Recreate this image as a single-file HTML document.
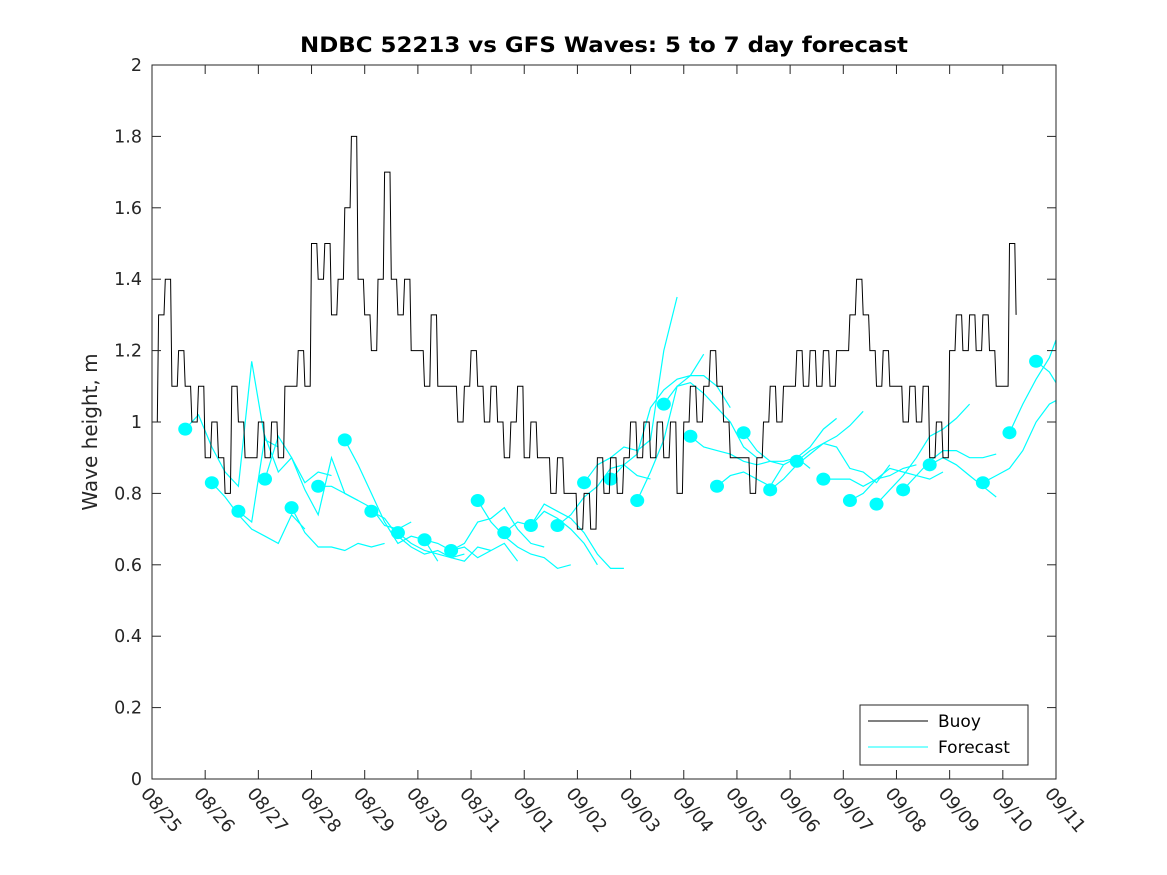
<!DOCTYPE html>
<html><head><meta charset="utf-8"><style>
body{margin:0;background:#fff}
svg{display:block;font-family:"DejaVu Sans","Liberation Sans",sans-serif}
</style></head><body>
<svg id="chart" width="1167" height="875" xmlns="http://www.w3.org/2000/svg">
<rect width="1167" height="875" fill="#fff"/>
<text x="604" y="52" font-size="21" font-weight="bold" text-anchor="middle" fill="#000" textLength="608" lengthAdjust="spacingAndGlyphs">NDBC 52213 vs GFS Waves: 5 to 7 day forecast</text>
<text transform="translate(97,432) rotate(-90)" font-size="20" text-anchor="middle" fill="#262626">Wave height, m</text>
<g id="plot"></g>
<rect x="152" y="65" width="904" height="714" fill="none" stroke="#262626" stroke-width="1"/>
<g id="ticks"></g>
<g>
<rect x="860" y="705" width="168" height="60" fill="#fff" stroke="#262626"/>
<line x1="868" y1="721" x2="928" y2="721" stroke="#000"/>
<text x="938" y="727" font-size="17" fill="#000">Buoy</text>
<line x1="868" y1="747" x2="928" y2="747" stroke="#0ff"/>
<text x="938" y="753" font-size="17" fill="#000">Forecast</text>
</g>
</svg>
<script>
const dayLabels=["08/25","08/26","08/27","08/28","08/29","08/30","08/31","09/01","09/02","09/03","09/04","09/05","09/06","09/07","09/08","09/09","09/10","09/11"];
const yTicks=[0,0.2,0.4,0.6,0.8,1,1.2,1.4,1.6,1.8,2];
const buoyStep=0.125;
const buoy=[1.0,1.3,1.4,1.1,1.2,1.1,1.0,1.1,
0.9,1.0,0.9,0.8,1.1,1.0,0.9,0.9,
1.0,0.9,1.0,0.9,1.1,1.1,1.2,1.1,
1.5,1.4,1.5,1.3,1.4,1.6,1.8,1.4,
1.3,1.2,1.4,1.7,1.4,1.3,1.4,1.2,
1.2,1.1,1.3,1.1,1.1,1.1,1.0,1.1,
1.2,1.1,1.0,1.1,1.0,0.9,1.0,1.1,
0.9,1.0,0.9,0.9,0.8,0.9,0.8,0.8,
0.7,0.8,0.7,0.9,0.8,0.9,0.8,0.9,
1.0,0.9,1.0,0.9,1.0,0.9,1.0,0.8,
1.0,1.1,1.0,1.1,1.2,1.1,1.0,0.9,
0.9,0.9,0.8,0.9,1.0,1.1,1.0,1.1,
1.1,1.2,1.1,1.2,1.1,1.2,1.1,1.2,
1.2,1.3,1.4,1.3,1.2,1.1,1.2,1.1,
1.1,1.0,1.1,1.0,1.1,0.9,1.0,0.9,
1.2,1.3,1.2,1.3,1.2,1.3,1.2,1.1,
1.1,1.5,1.3];
const fcStart=0.625, fcSpacing=0.5, fcStep=0.25;
const forecasts=[
[0.98,1.02,0.93,0.86,0.82,1.17,0.95,0.93],
[0.83,0.79,0.74,0.70,0.68,0.66,0.74,0.70],
[0.75,0.72,0.96,0.86,0.90,0.83,0.86,0.85],
[0.84,0.96,0.90,0.81,0.74,0.90,0.80,0.78],
[0.76,0.69,0.65,0.65,0.64,0.66,0.65,0.66],
[0.82,0.82,0.80,0.78,0.76,0.71,0.70,0.72],
[0.95,0.88,0.80,0.72,0.66,0.68,0.67,0.61],
[0.75,0.73,0.68,0.65,0.63,0.64,0.62,0.63],
[0.69,0.66,0.64,0.63,0.62,0.61,0.65,0.64],
[0.67,0.66,0.64,0.65,0.62,0.64,0.66,0.61],
[0.64,0.66,0.72,0.73,0.76,0.70,0.66,0.65],
[0.78,0.72,0.68,0.65,0.63,0.62,0.59,0.60],
[0.69,0.72,0.71,0.75,0.73,0.70,0.66,0.60],
[0.71,0.77,0.75,0.73,0.69,0.63,0.59,0.59],
[0.71,0.74,0.79,0.82,0.87,0.88,0.85,0.84],
[0.83,0.88,0.90,0.93,0.92,0.95,1.20,1.35],
[0.84,0.88,0.91,1.04,1.09,1.12,1.13,1.19],
[0.78,0.86,0.95,1.10,1.13,1.13,1.10,1.04],
[1.05,1.10,1.11,1.08,1.04,1.00,0.93,0.90],
[0.96,0.93,0.92,0.91,0.89,0.88,0.89,0.88],
[0.82,0.85,0.86,0.84,0.82,0.88,0.90,0.87],
[0.97,0.92,0.89,0.89,0.90,0.93,0.98,1.01],
[0.81,0.84,0.88,0.91,0.94,0.96,0.99,1.03],
[0.89,0.92,0.94,0.93,0.87,0.86,0.83,0.88],
[0.84,0.84,0.84,0.82,0.84,0.85,0.87,0.88],
[0.78,0.80,0.84,0.87,0.86,0.85,0.84,0.86],
[0.77,0.81,0.85,0.90,0.96,0.98,1.01,1.05],
[0.81,0.85,0.89,0.92,0.92,0.90,0.90,0.91],
[0.88,0.90,0.88,0.85,0.82,0.79],
[],
[0.83,0.85,0.87,0.92,1.00,1.05,1.06,1.05],
[0.97,1.05,1.12,1.18,1.23,1.23,1.20],
[1.17,1.14,1.11]];
const NS="http://www.w3.org/2000/svg";
const X0=152,X1=1056,Y0=779,Y1=65;
const xs=d=>X0+d*(X1-X0)/17;
const ys=v=>Y0-v*(Y0-Y1)/2;
const plot=document.getElementById('plot');
const ticks=document.getElementById('ticks');
function mk(tag,attrs,parent){const e=document.createElementNS(NS,tag);for(const k in attrs)e.setAttribute(k,attrs[k]);parent.appendChild(e);return e;}
forecasts.forEach((f,i)=>{
 if(!f.length)return;
 const d0=fcStart+i*fcSpacing;
 const pts=f.map((v,j)=>xs(Math.min(17,d0+j*fcStep)).toFixed(1)+","+ys(v).toFixed(1)).join(" ");
 const pl=mk('polyline',{points:pts,fill:'none',stroke:'#00ffff','stroke-width':1.2},plot);
 
 
 const c=mk('ellipse',{cx:xs(d0),cy:ys(f[0]),rx:7,ry:6.5,fill:'#00ffff'},plot);
 
 
});
const bpts=[];
buoy.forEach((v,i)=>{
 const d=i*buoyStep;
 bpts.push(xs(d).toFixed(1)+","+ys(v).toFixed(1));
 if(i<buoy.length-1) bpts.push(xs(d+buoyStep*0.8).toFixed(1)+","+ys(v).toFixed(1));
});
const bl=mk('polyline',{points:bpts.join(" "),fill:'none',stroke:'#000','stroke-width':1},plot);


yTicks.forEach(v=>{
 const y=ys(v);
 mk('line',{x1:X0,y1:y,x2:X0+9,y2:y,stroke:'#262626'},ticks);
 mk('line',{x1:X1,y1:y,x2:X1-9,y2:y,stroke:'#262626'},ticks);
 const t=mk('text',{x:X0-10,y:y+6,'font-size':17.5,'text-anchor':'end',fill:'#262626'},ticks);
 t.textContent=String(v);
 
 
});
dayLabels.forEach((lab,i)=>{
 const x=xs(i);
 mk('line',{x1:x,y1:Y0,x2:x,y2:Y0-9,stroke:'#262626'},ticks);
 mk('line',{x1:x,y1:Y1,x2:x,y2:Y1+9,stroke:'#262626'},ticks);
 const t=mk('text',{transform:`translate(${x-12},${Y0+15}) rotate(50)`,'font-size':18,fill:'#262626'},ticks);
 t.textContent=lab;
 
 
});
</script>
</body></html>
